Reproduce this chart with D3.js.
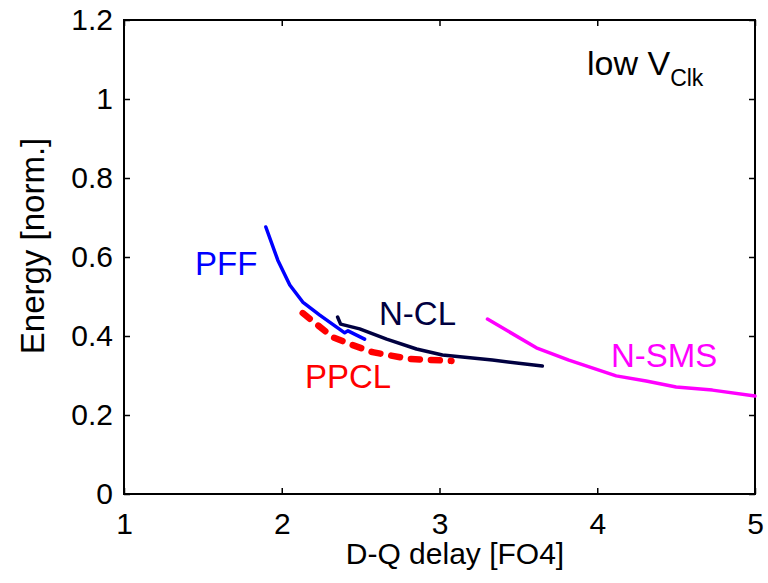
<!DOCTYPE html>
<html>
<head>
<meta charset="utf-8">
<title>Energy vs D-Q delay</title>
<style>
  body { margin: 0; background: #fff; }
  svg text { font-family: "Liberation Sans", Arial, sans-serif; }
</style>
</head>
<body>
<svg id="chart" width="768" height="583"></svg>
<script src="https://d3js.org/d3.v7.min.js"></script>
<script>
// values
var pffX = [1.899, 1.975, 2.051, 2.133, 2.241, 2.399, 2.42, 2.525];
var pffY = [0.676, 0.592, 0.529, 0.486, 0.453, 0.408, 0.413, 0.392];

var ppclX = [2.133, 2.323, 2.449, 2.576, 2.81, 3.076];
var ppclY = [0.458, 0.397, 0.377, 0.359, 0.342, 0.337];

var nclX = [2.354, 2.373, 2.494, 2.665, 2.854, 3.019, 3.335, 3.652];
var nclY = [0.448, 0.430, 0.418, 0.392, 0.367, 0.352, 0.339, 0.324];

var nsmsX = [3.304, 3.614, 3.82, 4.12, 4.31, 4.50, 4.73, 5.0];
var nsmsY = [0.443, 0.370, 0.339, 0.299, 0.286, 0.271, 0.263, 0.248];

var xTicks = [1, 2, 3, 4, 5];
var yTicks = [0, 0.2, 0.4, 0.6, 0.8, 1, 1.2];

var margin = {top: 20, right: 13, bottom: 89, left: 124},
    width = 768 - margin.left - margin.right,
    height = 583 - margin.top - margin.bottom;

var svg = d3.select("#chart");
var g = svg.append("g")
    .attr("transform", "translate(" + margin.left + "," + margin.top + ")");

var x = d3.scaleLinear().domain([1, 5]).range([0, width]);
var y = d3.scaleLinear().domain([0, 1.2]).range([height, 0]);

// axes, ticks inside, box on
function styleAxis(sel) {
  sel.select(".domain").remove();
  sel.selectAll("line").attr("stroke", "#000").attr("stroke-width", 1.5);
  sel.selectAll("text").attr("fill", "#000").style("font-size", "30px");
}

g.append("g")
    .attr("transform", "translate(0," + height + ")")
    .call(d3.axisBottom(x).tickValues(xTicks).tickFormat(d3.format("d"))
      .tickSizeInner(-6).tickSizeOuter(0).tickPadding(19))
    .call(styleAxis);

g.append("g")
    .call(d3.axisLeft(y).tickValues(yTicks).tickFormat(function(d) { return d3.format("")(+d.toFixed(1)); })
      .tickSizeInner(-6).tickSizeOuter(0).tickPadding(11))
    .call(styleAxis);

g.append("g")
    .call(d3.axisTop(x).tickValues(xTicks).tickFormat("")
      .tickSizeInner(-6).tickSizeOuter(0))
    .call(styleAxis);

g.append("g")
    .attr("transform", "translate(" + width + ",0)")
    .call(d3.axisRight(y).tickValues(yTicks).tickFormat("")
      .tickSizeInner(-6).tickSizeOuter(0))
    .call(styleAxis);

g.append("rect")
    .attr("width", width)
    .attr("height", height)
    .attr("fill", "none")
    .attr("stroke", "#000")
    .attr("stroke-width", 2);

// axis titles
svg.append("text")
    .attr("x", 455)
    .attr("y", 564)
    .attr("text-anchor", "middle")
    .style("font-size", "30px")
    .text("D-Q delay [FO4]");

svg.append("text")
    .attr("transform", "translate(44,246) rotate(-90)")
    .attr("text-anchor", "middle")
    .style("font-size", "33px")
    .text("Energy [norm.]");

// curves
var line = d3.line()
    .x(function(d) { return x(d[0]); })
    .y(function(d) { return y(d[1]); });

function series(xs, ys) { return xs.map(function(v, i) { return [v, ys[i]]; }); }

g.append("path")
    .datum(series(nclX, nclY))
    .attr("d", line)
    .attr("fill", "none")
    .attr("stroke", "#000040")
    .attr("stroke-width", 3.5)
    .attr("stroke-linejoin", "round")
    .attr("stroke-linecap", "round");

g.append("path")
    .datum(series(pffX, pffY))
    .attr("d", line)
    .attr("fill", "none")
    .attr("stroke", "#0000ff")
    .attr("stroke-width", 3.5)
    .attr("stroke-linejoin", "round")
    .attr("stroke-linecap", "round");

g.append("path")
    .datum(series(ppclX, ppclY))
    .attr("d", line)
    .attr("fill", "none")
    .attr("stroke", "#ff0000")
    .attr("stroke-width", 6.5)
    .attr("stroke-dasharray", "9,11")
    .attr("stroke-linecap", "round");

g.append("path")
    .datum(series(nsmsX, nsmsY))
    .attr("d", line)
    .attr("fill", "none")
    .attr("stroke", "#ff00ff")
    .attr("stroke-width", 3.5)
    .attr("stroke-linejoin", "round")
    .attr("stroke-linecap", "round");

// curve labels
function label(txt, px, py, color) {
  svg.append("text")
      .attr("x", px)
      .attr("y", py)
      .attr("fill", color)
      .style("font-size", "33px")
      .text(txt);
}
label("PFF", 195, 275, "#0000ff");
label("N-CL", 379, 325, "#000040");
label("PPCL", 305, 388, "#ff0000");
label("N-SMS", 611, 367, "#ff00ff");

var lv = svg.append("text")
    .attr("x", 587)
    .attr("y", 75)
    .attr("fill", "#000")
    .style("font-size", "34px");
lv.append("tspan").text("low V");
lv.append("tspan").attr("dy", 11).style("font-size", "23px").text("Clk");
</script>
</body>
</html>
